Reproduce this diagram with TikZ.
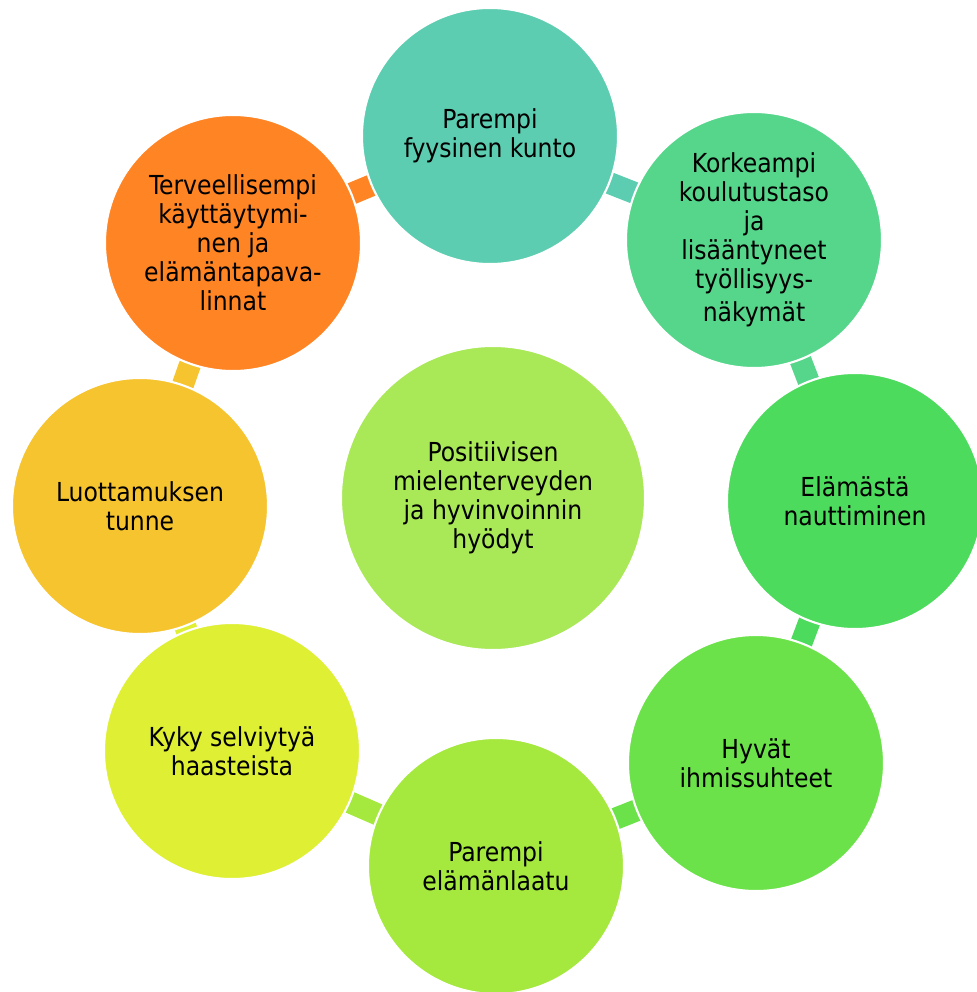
\documentclass[tikz,border=0pt]{standalone}
\usepackage{fontspec}
\setmainfont{DejaVu Sans Condensed}
\usetikzlibrary{positioning, backgrounds}

\definecolor{hubfill}{HTML}{A9E856}
\definecolor{kunto}{HTML}{5CCDB0}
\definecolor{koulutus}{HTML}{55D68B}
\definecolor{nautinto}{HTML}{4CDB5C}
\definecolor{suhteet}{HTML}{6CE24A}
\definecolor{laatu}{HTML}{A5E83E}
\definecolor{haaste}{HTML}{DFEF33}
\definecolor{luotto}{HTML}{F6C42E}
\definecolor{elama}{HTML}{FF8424}

\begin{document}
\begin{tikzpicture}[x=0.025cm, y=-0.025cm,
		bubble/.style={circle, draw=white, line width=1.5pt, minimum size=6.4cm, inner sep=0pt, align=center, font=\fontsize{18.6}{20.6}\selectfont},
		link/.style={line width=0.55cm}]
			\useasboundingbox (0,0) rectangle (977,992);
			
			\node[bubble, fill=hubfill, minimum size=7.6cm] (hub) at (493,498) {Positiivisen\\mielenterveyden\\ja hyvinvoinnin\\hyödyt};
			\node[bubble, fill=kunto] (b1) at (490,136) {Parempi\\fyysinen kunto};
			\node[bubble, fill=koulutus] (b2) at (754,240) {Korkeampi\\koulutustaso\\ja\\lisääntyneet\\työllisyys-\\[3pt]näkymät};
			\node[bubble, fill=nautinto] (b3) at (855,501) {Elämästä\\nauttiminen};
			\node[bubble, fill=suhteet] (b4) at (756,763) {Hyvät\\ihmissuhteet};
			\node[bubble, fill=laatu] (b5) at (496,866) {Parempi\\elämänlaatu};
			\node[bubble, fill=haaste] (b6) at (232,751) {Kyky selviytyä\\haasteista};
			\node[bubble, fill=luotto] (b7) at (140,506) {Luottamuksen\\tunne};
			\node[bubble, fill=elama] (b8) at (233,243) {Terveellisempi\\käyttäytymi-\\nen ja\\elämäntapava-\\linnat};
			
			\begin{pgfonlayer}{background}
			\path[link]
			(b1.center) edge[draw=kunto] (b2.center)
			(b2.center) edge[draw=koulutus] (b3.center)
			(b3.center) edge[draw=nautinto] (b4.center)
			(b4.center) edge[draw=suhteet] (b5.center)
			(b5.center) edge[draw=laatu] (b6.center)
			(b6.center) edge[draw=haaste] (b7.center)
			(b7.center) edge[draw=luotto] (b8.center)
			(b8.center) edge[draw=elama] (b1.center);
			\end{pgfonlayer}
			
		\end{tikzpicture}
\end{document}
